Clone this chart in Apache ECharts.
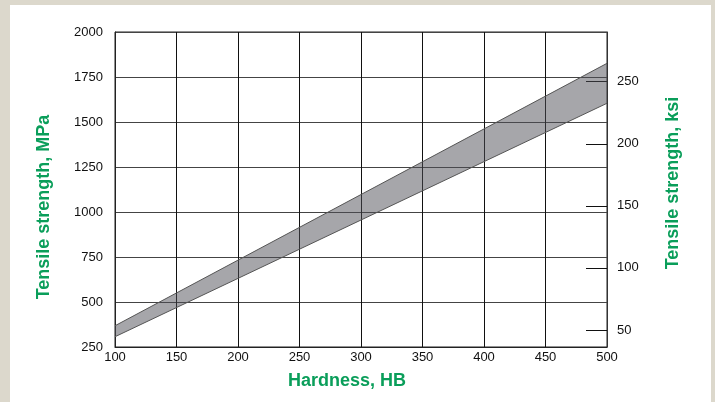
<!DOCTYPE html>
<html>
<head>
<meta charset="utf-8">
<script src="https://cdn.jsdelivr.net/npm/echarts@6/dist/echarts.min.js"></script>
<style>
html,body{margin:0;padding:0;background:#dcd8cc;}
#chart{width:715px;height:402px;}
</style>
</head>
<body>
<div id="chart"></div>
<script>
// Data
var hardness = [100, 500];             // HB at band ends
var upperMPa = [368, 1826];            // upper edge of band
var lowerMPa = [307, 1604];            // lower edge of band
var ksiTicks = [50, 100, 150, 200, 250];
var MPA_PER_KSI = 6.894757;

var upperPts = hardness.map(function (h, i) { return [h, upperMPa[i]]; });
var lowerPts = hardness.map(function (h, i) { return [h, lowerMPa[i]]; });
var polygonData = upperPts.concat(lowerPts.slice().reverse());

var green = '#0a9e5a';
var plain = function (v) { return String(v); };
var chart = echarts.init(document.getElementById('chart'));
chart.setOption({
  backgroundColor: 'transparent',
  animation: false,
  graphic: [
    { type: 'rect', shape: { x: 10, y: 5, width: 701, height: 400 }, style: { fill: '#ffffff' }, z: -10, silent: true },
    { type: 'text', x: 44, y: 207, rotation: Math.PI / 2,
      style: { text: 'Tensile strength, MPa', fill: green, font: 'bold 18px "Liberation Sans", Arial, sans-serif', align: 'center', verticalAlign: 'middle' } },
    { type: 'text', x: 673, y: 183, rotation: Math.PI / 2,
      style: { text: 'Tensile strength, ksi', fill: green, font: 'bold 18px "Liberation Sans", Arial, sans-serif', align: 'center', verticalAlign: 'middle' } },
    { type: 'text', x: 347, y: 381,
      style: { text: 'Hardness, HB', fill: green, font: 'bold 18px "Liberation Sans", Arial, sans-serif', align: 'center', verticalAlign: 'middle' } }
  ],
  grid: { left: 115, right: 108, top: 32, bottom: 55, show: true, borderColor: '#222', borderWidth: 1, backgroundColor: 'transparent' },
  xAxis: {
    type: 'value', min: 100, max: 500, interval: 50,
    axisLine: { show: true, lineStyle: { color: '#222', width: 1 } },
    axisTick: { show: false },
    axisLabel: { color: '#111', fontSize: 13, fontFamily: '"Liberation Sans", Arial, sans-serif', margin: 4, formatter: plain },
    splitLine: { show: true, lineStyle: { color: '#111', width: 1 } }
  },
  yAxis: [
    {
      type: 'value', min: 250, max: 2000, interval: 250, position: 'left',
      axisLine: { show: true, lineStyle: { color: '#222', width: 1 } },
      axisTick: { show: false },
      axisLabel: { color: '#111', fontSize: 13, fontFamily: '"Liberation Sans", Arial, sans-serif', margin: 12, formatter: plain },
      splitLine: { show: true, lineStyle: { color: '#444', width: 1 } }
    },
    {
      type: 'value', min: 250 / MPA_PER_KSI, max: 2000 / MPA_PER_KSI, position: 'right',
      axisLine: { show: true, lineStyle: { color: '#333', width: 1 } },
      axisTick: { show: true, inside: true, length: 21, customValues: ksiTicks, lineStyle: { color: '#111', width: 1 } },
      axisLabel: { color: '#111', fontSize: 13, fontFamily: '"Liberation Sans", Arial, sans-serif', margin: 10, customValues: ksiTicks, formatter: plain },
      splitLine: { show: false }
    }
  ],
  series: [
    {
      type: 'custom', coordinateSystem: 'cartesian2d', xAxisIndex: 0, yAxisIndex: 0,
      data: [0],
      renderItem: function (params, api) {
        var pts = polygonData.map(function (p) { return api.coord(p); });
        return { type: 'polygon', shape: { points: pts }, style: { fill: 'rgba(77,77,85,0.5)', stroke: 'none' } };
      },
      silent: true, z: 1
    },
    { type: 'line', data: upperPts, symbol: 'none', lineStyle: { color: '#555', width: 1 }, silent: true, z: 2 },
    { type: 'line', data: lowerPts, symbol: 'none', lineStyle: { color: '#555', width: 1 }, silent: true, z: 2 }
  ]
});
</script>
</body>
</html>
